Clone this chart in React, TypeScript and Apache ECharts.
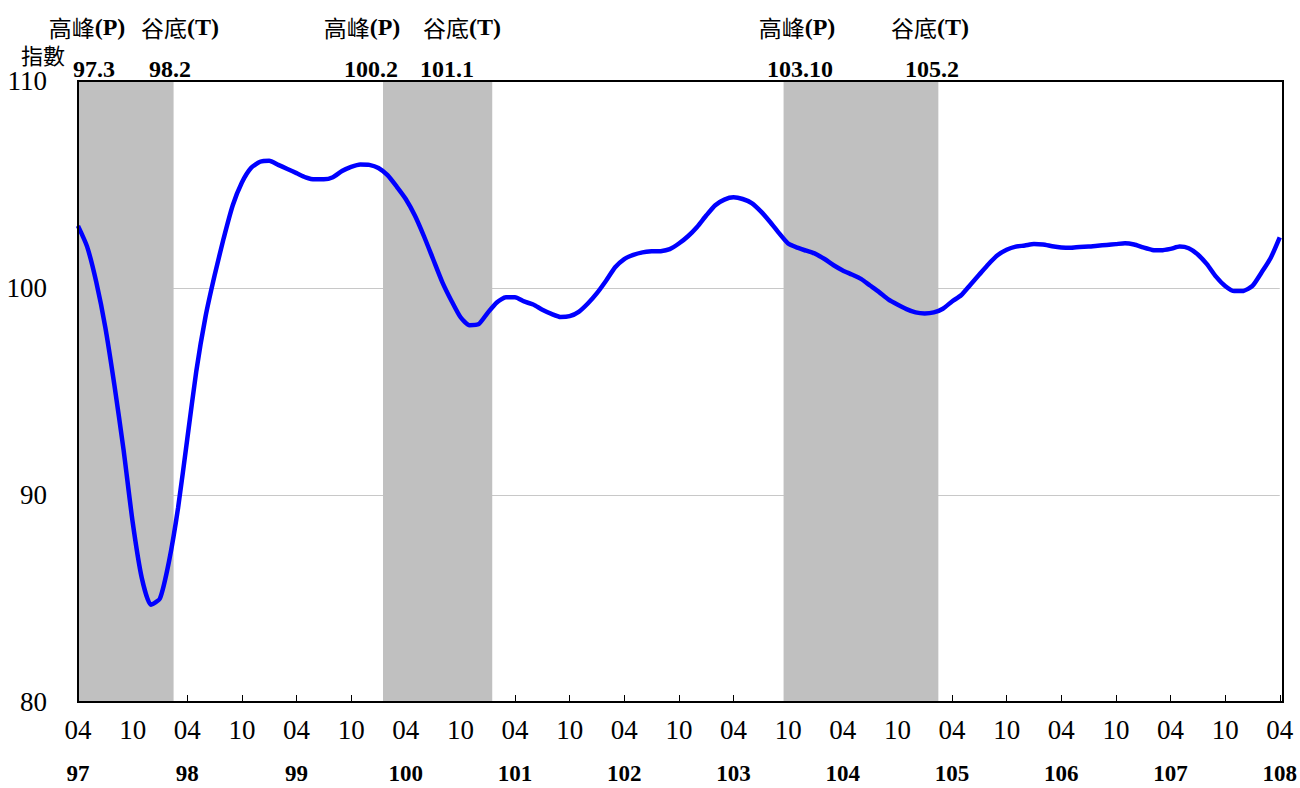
import React, { useEffect, useRef } from "react";
import * as echarts from "echarts";

// Monthly composite index, 97.04 (index 0) .. 108.04 (index 132)
const indexValues: number[] = [
  103.0, 102.0, 100.3, 98.1, 95.3, 92.2, 88.7, 86.0, 84.7, 85.0,
  86.8, 89.4, 92.7, 96.0, 98.6, 100.6, 102.4, 104.0, 105.1, 105.8,
  106.1, 106.15, 105.95, 105.75, 105.55, 105.35, 105.25, 105.25, 105.35, 105.65,
  105.85, 105.97, 105.95, 105.8, 105.45, 104.9, 104.3, 103.5, 102.5, 101.4,
  100.3, 99.4, 98.6, 98.2, 98.25, 98.8, 99.3, 99.55, 99.55, 99.35,
  99.2, 98.95, 98.75, 98.6, 98.64, 98.85, 99.25, 99.75, 100.35, 101.0,
  101.4, 101.6, 101.72, 101.77, 101.78, 101.88, 102.15, 102.5, 102.95, 103.5,
  104.0, 104.27, 104.38, 104.3, 104.1, 103.7, 103.2, 102.65, 102.15, 101.95,
  101.8, 101.65, 101.4, 101.1, 100.85, 100.65, 100.44, 100.12, 99.8, 99.45,
  99.2, 98.98, 98.82, 98.77, 98.82, 99.0, 99.35, 99.65, 100.15, 100.65,
  101.15, 101.58, 101.85, 102.0, 102.05, 102.12, 102.1, 102.02, 101.96, 101.94,
  101.98, 102.0, 102.04, 102.08, 102.12, 102.16, 102.1, 101.96, 101.84, 101.82,
  101.89, 102.0, 101.92, 101.62, 101.15, 100.55, 100.1, 99.85, 99.86, 100.1,
  100.75, 101.45, 102.45,
];

const yearLabels = ["97", "98", "99", "100", "101", "102", "103", "104", "105", "106", "107", "108"];
const monthLabels = ["04", "10"];

// Peaks and troughs (index of month relative to 97.04)
const peakIndex = [-1, 34, 78];
const troughIndex = [10, 45, 94];
const peakLabels = ["97.3", "100.2", "103.10"];
const troughLabels = ["98.2", "101.1", "105.2"];

const SERIF = "'Times New Roman', 'Liberation Serif', serif";
const CJK = "'Noto Sans CJK TC', 'Noto Sans CJK SC', sans-serif";

const GRID = { left: 78, top: 81, right: 17, bottom: 86 };
const W = 1300;
const H = 788;

export default function App() {
  const ref = useRef<HTMLDivElement>(null);

  useEffect(() => {
    if (!ref.current) return;
    const chart = echarts.init(ref.current, undefined, { renderer: "svg" });
    const lastIdx = indexValues.length - 1;

    const areas = peakIndex.map((p, i) => [
      { xAxis: Math.max(0, p - 0.5) },
      { xAxis: Math.min(lastIdx, troughIndex[i] + 0.5) },
    ]);

    const peakX = [87, 362, 797];
    const troughX = [180, 462, 930];
    const peakNumX = [94, 371, 800];
    const troughNumX = [170, 447, 932];

    const richHead = {
      c: { fontFamily: CJK, fontSize: 23, lineHeight: 24, fill: "#000" },
      b: { fontFamily: SERIF, fontSize: 24, lineHeight: 24, fontWeight: "bold", fill: "#000" },
    };

    const headTexts: any[] = [];
    peakLabels.forEach((lab, i) => {
      headTexts.push({
        type: "text",
        x: peakX[i],
        y: 27,
        style: {
          text: "{c|高峰}{b|(P)}",
          align: "center",
          verticalAlign: "middle",
          rich: richHead,
        },
      });
      headTexts.push({
        type: "text",
        x: peakNumX[i],
        y: 69,
        style: {
          text: lab,
          align: "center",
          verticalAlign: "middle",
          fontFamily: SERIF,
          fontSize: 24,
          fontWeight: "bold",
          fill: "#000",
        },
      });
    });
    troughLabels.forEach((lab, i) => {
      headTexts.push({
        type: "text",
        x: troughX[i],
        y: 27,
        style: {
          text: "{c|谷底}{b|(T)}",
          align: "center",
          verticalAlign: "middle",
          rich: richHead,
        },
      });
      headTexts.push({
        type: "text",
        x: troughNumX[i],
        y: 69,
        style: {
          text: lab,
          align: "center",
          verticalAlign: "middle",
          fontFamily: SERIF,
          fontSize: 24,
          fontWeight: "bold",
          fill: "#000",
        },
      });
    });

    chart.setOption({
      animation: false,
      backgroundColor: "#fff",
      grid: { left: GRID.left, top: GRID.top, right: GRID.right, bottom: GRID.bottom, containLabel: false },
      xAxis: [
        {
          type: "value",
          min: 0,
          max: lastIdx,
          interval: 6,
          axisLine: { show: true, lineStyle: { color: "#000", width: 2 } },
          axisTick: { show: true, inside: true, length: 7, lineStyle: { color: "#000", width: 1 } },
          splitLine: { show: false },
          axisLabel: {
            showMinLabel: true,
            showMaxLabel: true,
            margin: 14,
            color: "#000",
            fontFamily: SERIF,
            fontSize: 27,
            formatter: (v: number) => monthLabels[Math.round(v / 6) % 2],
          },
        },
        {
          type: "value",
          position: "bottom",
          offset: 48,
          min: 0,
          max: lastIdx,
          interval: 12,
          axisLine: { show: false },
          axisTick: { show: false },
          splitLine: { show: false },
          axisLabel: {
            showMinLabel: true,
            showMaxLabel: true,
            margin: 12,
            color: "#000",
            fontFamily: SERIF,
            fontSize: 23,
            fontWeight: "bold",
            formatter: (v: number) => yearLabels[Math.round(v / 12)] ?? "",
          },
        },
      ],
      yAxis: {
        type: "value",
        min: 80,
        max: 110,
        interval: 10,
        axisLine: { show: true, lineStyle: { color: "#000", width: 2 } },
        axisTick: { show: true, inside: true, length: 7, lineStyle: { color: "#000", width: 1 } },
        splitLine: { show: true, lineStyle: { color: "#c8c8c8", width: 1 } },
        axisLabel: {
          margin: 31,
          color: "#000",
          fontFamily: SERIF,
          fontSize: 27,
        },
      },
      series: [
        {
          type: "line",
          xAxisIndex: 0,
          data: indexValues.map((v, i) => [i, v]),
          showSymbol: false,
          smooth: 0.2,
          lineStyle: { color: "#0000ff", width: 4.5 },
          z: 5,
          markArea: {
            silent: true,
            itemStyle: { color: "#c0c0c0", opacity: 1 },
            data: areas,
          },
        },
      ],
      graphic: [
        {
          type: "rect",
          z: 100,
          silent: true,
          shape: {
            x: GRID.left,
            y: GRID.top,
            width: W - GRID.left - GRID.right,
            height: H - GRID.top - GRID.bottom,
          },
          style: { fill: "none", stroke: "#000", lineWidth: 2 },
        },
        {
          type: "text",
          x: 43,
          y: 54,
          style: {
            text: "指數",
            align: "center",
            verticalAlign: "middle",
            fontFamily: CJK,
            fontSize: 22,
            lineHeight: 22,
            fill: "#000",
          },
        },
        ...headTexts,
      ],
    });

    return () => chart.dispose();
  }, []);

  return (
    <div
      ref={ref}
      style={{ position: "fixed", left: 0, top: 0, width: W, height: H, background: "#fff" }}
    />
  );
}
